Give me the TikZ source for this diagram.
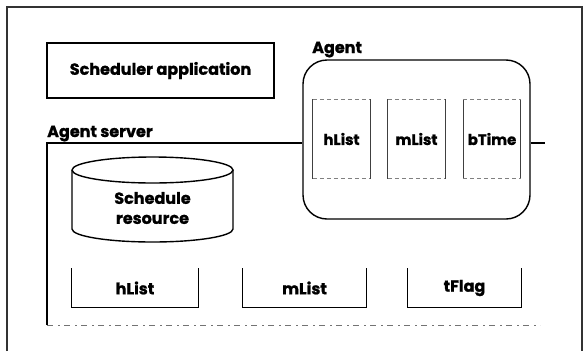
\documentclass[tikz,border=0pt]{standalone}
\usepackage{fontspec}
\setmainfont{Poppins}[BoldFeatures={FakeBold=1.2}]
\begin{document}
\begin{tikzpicture}[x=1pt,y=-1pt,
  every node/.style={font=\bfseries\fontsize{16}{20}\selectfont},
  frame/.style={line width=1.1pt},
  heavy/.style={line width=1.4pt},
  field/.style={minimum width=57pt,minimum height=79pt,inner sep=0pt,font=\bfseries\fontsize{15}{18}\selectfont},
  slot/.style={minimum height=39pt,inner sep=0pt},
  title/.style={anchor=base west,inner sep=0pt}]
\useasboundingbox (0,0) rectangle (585,351);
% outer page frame, open at the bottom
\draw[frame,black!80] (7,351) -- (7,7) -- (582,7) -- (582,351);

% scheduler application
\node[draw,heavy,minimum width=227pt,minimum height=55pt,inner sep=0pt] (app) at (160.5,70.5) {Scheduler application};

% agent server
\node[title] (srvlbl) at (47,137) {Agent server};
\coordinate (srvtl) at (47,143);
\coordinate (srvbl) at (47,325);
\coordinate (srvbr) at (540,325);
\coordinate (srvtr) at (545,143);

% agent
\node[title] (agentlbl) at (312,53) {Agent};
\node[draw,heavy,rounded corners=24pt,minimum width=227pt,minimum height=159pt,inner sep=0pt] (agent) at (416.5,139.5) {};
\draw[heavy] (srvbl) -- (srvtl) -- (srvtl -| agent.west);
\draw[heavy] (srvtr -| agent.east) -- (srvtr);
\draw[black!55,line width=0.6pt,dash pattern=on 6pt off 5pt on 2pt off 4pt] (srvbl) -- (srvbr);

% agent fields
\foreach \n/\x/\t in {ah/341.5/hList, am/416.5/mList, ab/492/bTime}{
  \node[field] (\n) at (\x,139) {\t};
  \draw[line width=0.7pt,black!75] (\n.north west) -- (\n.south west) (\n.north east) -- (\n.south east);
  \draw[line width=0.5pt,black!50,dash pattern=on 4pt off 3pt] (\n.north west) -- (\n.north east) (\n.south west) -- (\n.south east);
}

% schedule resource cylinder (radii are absolute lengths, so 180 -> 360 runs below)
\draw[heavy] (72,170) arc[start angle=180,end angle=-180,x radius=80.5pt,y radius=13pt];
\draw[heavy] (72,170) -- (72,229) arc[start angle=180,end angle=360,x radius=80.5pt,y radius=13pt] -- (233,170);
\node[align=center] (res) at (152.5,208) {Schedule\\resource};

% server lists, open at the top
\foreach \n/\x/\w/\t in {sh/135/126/hList, sm/304.5/123/mList, sf/464.5/113/tFlag}{
  \node[slot,minimum width=\w pt] (\n) at (\x,288) {\t};
  \draw[line width=0.9pt] (\n.north west) -- (\n.south west) -- (\n.south east) -- (\n.north east);
}
\end{tikzpicture}
\end{document}
